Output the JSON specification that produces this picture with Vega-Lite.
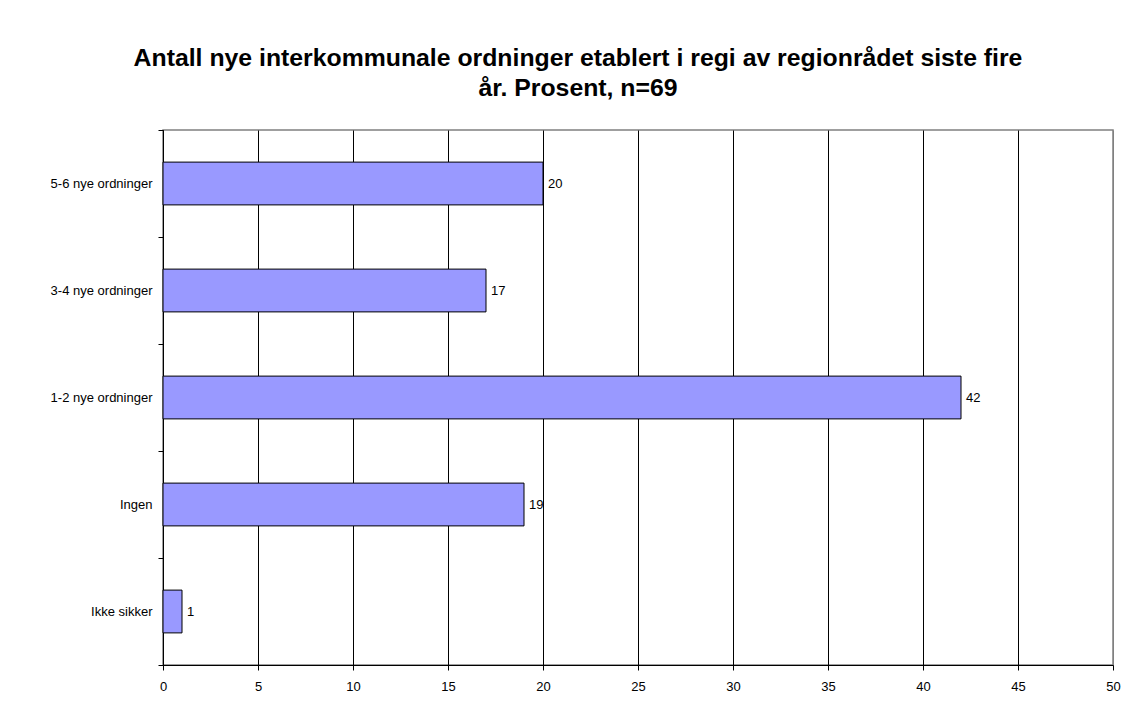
{
  "$schema": "https://vega.github.io/schema/vega-lite/v6.json",
  "width": 950,
  "height": 535,
  "autosize": {"type": "none"},
  "padding": {"left": 163, "top": 130, "right": 20, "bottom": 48},
  "background": "white",
  "title": {
    "text": ["Antall nye interkommunale ordninger etablert i regi av regionrådet siste fire", "år. Prosent, n=69"],
    "font": "Liberation Sans",
    "fontSize": 24.8,
    "fontWeight": "bold",
    "color": "black",
    "anchor": "middle",
    "frame": "group",
    "dx": -60,
    "lineHeight": 30,
    "offset": 23
  },
  "data": {
    "values": [
      {"kategori": "5-6 nye ordninger", "prosent": 20},
      {"kategori": "3-4 nye ordninger", "prosent": 17},
      {"kategori": "1-2 nye ordninger", "prosent": 42},
      {"kategori": "Ingen", "prosent": 19},
      {"kategori": "Ikke sikker", "prosent": 1}
    ]
  },
  "encoding": {
    "y": {
      "field": "kategori",
      "type": "nominal",
      "sort": null,
      "scale": {"paddingInner": 0, "paddingOuter": 0},
      "axis": {
        "title": null,
        "tickBand": "extent",
        "tickSize": 5,
        "tickColor": "black",
        "domainColor": "black",
        "labelPadding": 6,
        "labelFont": "Liberation Sans",
        "labelFontSize": 13,
        "labelColor": "black",
        "grid": false
      }
    },
    "x": {
      "field": "prosent",
      "type": "quantitative",
      "scale": {"domain": [0, 50], "nice": false},
      "axis": {
        "title": null,
        "values": [0, 5, 10, 15, 20, 25, 30, 35, 40, 45, 50],
        "tickSize": 5,
        "tickColor": "black",
        "domainColor": "black",
        "gridColor": {"condition": {"test": "datum.value == 50", "value": "#808080"}, "value": "black"},
        "gridOpacity": 1,
        "labelPadding": 10,
        "labelFont": "Liberation Sans",
        "labelFontSize": 13,
        "labelColor": "black",
        "labelFlush": false
      }
    }
  },
  "layer": [
    {
      "mark": {"type": "bar", "height": {"band": 0.4}, "fill": "#9999FF", "stroke": "black", "strokeWidth": 1}
    },
    {
      "mark": {"type": "text", "align": "left", "baseline": "middle", "dx": 5, "font": "Liberation Sans", "fontSize": 13, "color": "black"},
      "encoding": {"text": {"field": "prosent", "type": "quantitative"}}
    }
  ],
  "config": {
    "view": {"stroke": "#808080", "strokeWidth": 1.5}
  }
}
